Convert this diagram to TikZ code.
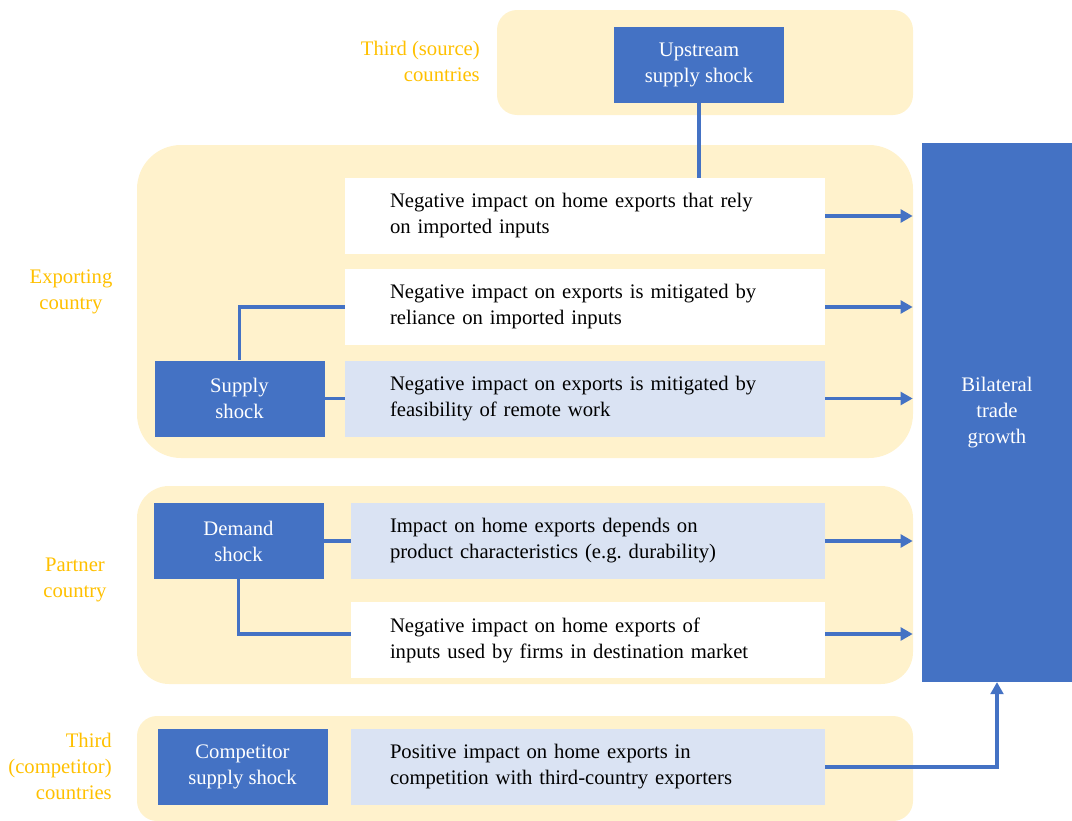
\documentclass[tikz,border=0pt]{standalone}
\usepackage{fontspec}
\setmainfont{Liberation Serif}
\usetikzlibrary{arrows.meta}

\definecolor{shockblue}{HTML}{4472C4}
\definecolor{regionyellow}{HTML}{FFF2CC}
\definecolor{impactblue}{HTML}{DAE3F3}
\definecolor{labelgold}{HTML}{FFC000}

\tikzset{
  region/.style={fill=regionyellow},
  regionlabel/.style={text=labelgold, inner sep=0pt},
  shock/.style={fill=shockblue, text=white, align=center, inner sep=0pt,
    minimum width=127.5pt, minimum height=57pt},
  impact/.style={fill=white, align=left, inner ysep=0pt, minimum height=57pt,
    inner xsep=33.75pt, text width=292.5pt},
  impactlow/.style={impact, inner xsep=29.25pt, text width=297pt},
  link/.style={draw=shockblue, line width=2.6pt},
  arrow/.style={link, -{Triangle[length=9pt,width=9.5pt]}},
}

\begin{document}
\begin{tikzpicture}[x=0.75pt,y=-0.75pt]
  \fontsize{15.5}{19.5}\selectfont
  \useasboundingbox (0,0) rectangle (1072,821);

  % regions
  \fill[region, rounded corners=15pt] (497,10) rectangle (913,115);
  \fill[region, rounded corners=33pt] (137,145) rectangle (913,458);
  \fill[region, rounded corners=24pt] (137,486) rectangle (913,684);
  \fill[region, rounded corners=15pt] (137,716) rectangle (913,821);

  % region labels
  \node[regionlabel, align=right, anchor=east] (lsource) at (480,61) {Third (source)\\countries};
  \node[regionlabel, align=center] (lexport) at (71,292) {Exporting\\country};
  \node[regionlabel, align=center] (lpartner) at (75,580) {Partner\\country};
  \node[regionlabel, align=right, anchor=east] (lcomp) at (112,766) {Third\\(competitor)\\countries};

  % shocks
  \node[shock] (upstream) at (699,64.5) {Upstream\\supply shock};
  \node[shock] (supply) at (239.5,398.5) {Supply\\shock};
  \node[shock] (demand) at (238.5,541) {Demand\\shock};
  \node[shock] (competitor) at (242.5,767) {Competitor\\supply shock};
  \node[fill=shockblue, text=white, align=center, inner sep=0pt,
    minimum width=112.5pt, minimum height=404pt] (growth) at (997,412.5)
    {Bilateral\\trade\\growth};

  % impacts
  \node[impact] (imp1) at (585,216) {Negative impact on home exports that rely\\on imported inputs};
  \node[impact] (imp2) at (585,307) {Negative impact on exports is mitigated by\\reliance on imported inputs};
  \node[impact, fill=impactblue] (imp3) at (585,398.5) {Negative impact on exports is mitigated by\\feasibility of remote work};
  \node[impactlow, fill=impactblue] (imp4) at (588,541) {Impact on home exports depends on\\product characteristics (e.g.\ durability)};
  \node[impactlow] (imp5) at (588,640) {Negative impact on home exports of\\inputs used by firms in destination market};
  \node[impactlow, fill=impactblue] (imp6) at (588,767) {Positive impact on home exports in\\competition with third-country exporters};
  \coordinate (imp5in) at ([yshift=4.5pt]imp5.west);
  \coordinate (imp5out) at ([yshift=4.5pt]imp5.east);

  % links
  \draw[link] (upstream.south) -- (upstream.south |- imp1.north);
  \draw[link] (supply.north) |- (imp2.west);
  \draw[link] (supply.east) -- (imp3.west);
  \draw[link] (demand.east) -- (imp4.west);
  \draw[link] (demand.south) |- (imp5in);

  % arrows to growth
  \foreach \n in {imp1, imp2, imp3, imp4, imp5out}
    \draw[arrow, shorten >=6.75pt] (\n.east) -- (\n.east -| growth.west);
  \draw[arrow] (imp6.east) -| (growth.south);
\end{tikzpicture}
\end{document}
